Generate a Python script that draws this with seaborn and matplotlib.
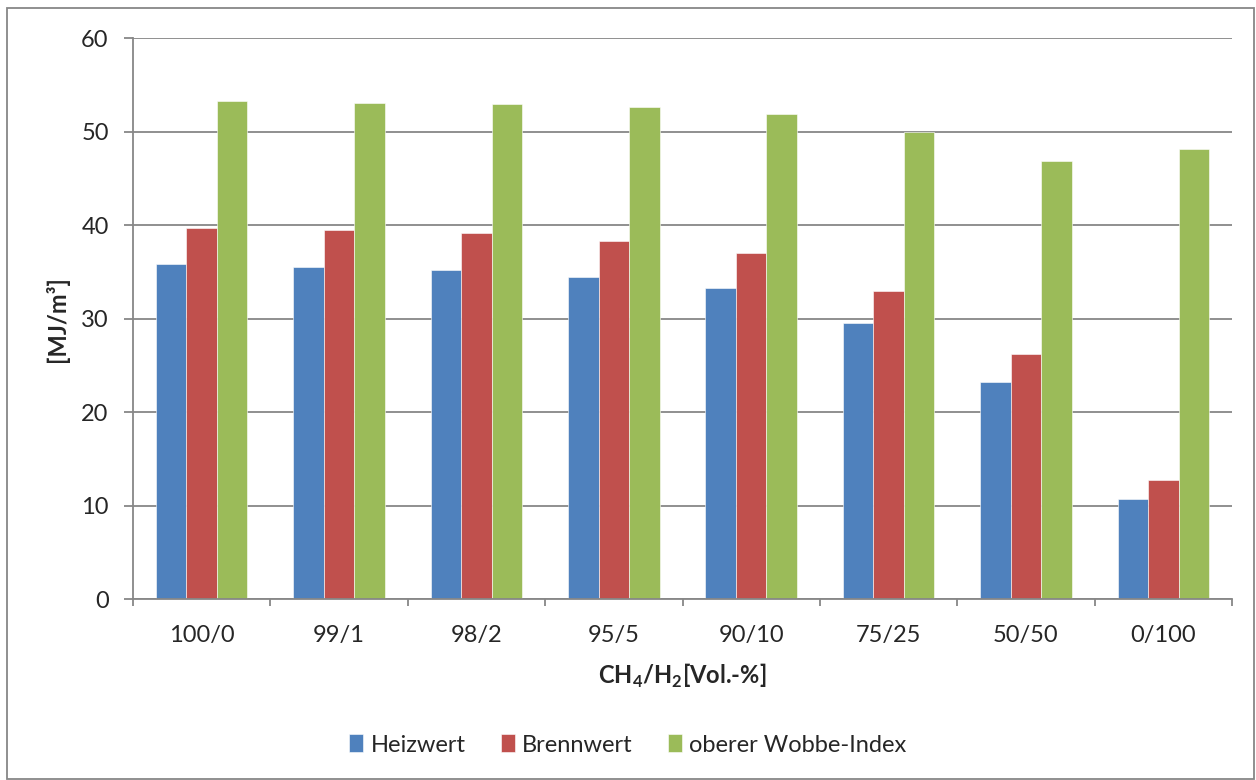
import matplotlib
matplotlib.use("Agg")
import matplotlib.pyplot as plt
from matplotlib.patches import Rectangle
from matplotlib.ticker import FixedLocator
import pandas as pd
import seaborn as sns

# Mixture ratios CH4/H2 in Vol.-%
categories = ["100/0", "99/1", "98/2", "95/5", "90/10", "75/25", "50/50", "0/100"]

# Energy values in MJ/m³
heizwert = [35.8, 35.55, 35.25, 34.5, 33.3, 29.5, 23.2, 10.75]
brennwert = [39.75, 39.45, 39.2, 38.35, 37.0, 33.0, 26.2, 12.7]
wobbe_index = [53.25, 53.1, 53.0, 52.6, 51.95, 50.0, 46.9, 48.2]

series_names = ["Heizwert", "Brennwert", "oberer Wobbe-Index"]
colors = ["#4F81BD", "#C0504D", "#9BBB59"]

df = pd.DataFrame({
    "Mischung": categories * 3,
    "Wert": heizwert + brennwert + wobbe_index,
    "Größe": [s for s in series_names for _ in categories],
})

sns.set_theme(style="white")
plt.rcParams["font.family"] = ["Lato", "DejaVu Sans"]
FS = 17

fig = plt.figure(figsize=(12.56, 7.8), dpi=100)
ax = fig.add_axes([133 / 1256, 1 - 599 / 780, (1232 - 133) / 1256, (599 - 38.3) / 780])

sns.barplot(
    data=df, x="Mischung", y="Wert", hue="Größe",
    order=categories, hue_order=series_names, palette=colors,
    width=2 / 3, gap=0, saturation=1, edgecolor="white", linewidth=0.4,
    ax=ax, legend=True,
)

grid_color = "#878787"
ax.set_ylim(0, 60)
ax.set_xlim(-0.5, len(categories) - 0.5)
ax.set_yticks(range(0, 61, 10))
ax.yaxis.grid(True, color=grid_color, linewidth=1.3)
ax.set_axisbelow(True)

for side in ("top", "right"):
    ax.spines[side].set_visible(False)
for side in ("left", "bottom"):
    ax.spines[side].set_color(grid_color)
    ax.spines[side].set_linewidth(1.3)

ax.tick_params(axis="y", which="major", direction="out", length=6.5, width=1.3,
               color=grid_color, labelsize=FS, pad=11, left=True)
ax.xaxis.set_minor_locator(FixedLocator([i - 0.5 for i in range(len(categories) + 1)]))
ax.tick_params(axis="x", which="minor", direction="out", length=5, width=1.3,
               color=grid_color, bottom=True)
ax.tick_params(axis="x", which="major", length=0, labelsize=FS, pad=19)

ax.set_xlabel(r"CH$_\mathregular{4}$/H$_\mathregular{2}$[Vol.-%]", fontsize=FS,
              fontweight="bold", labelpad=11)
ax.set_ylabel("[MJ/m³]", fontsize=FS, fontweight="bold", labelpad=9)

handles, labels = ax.get_legend_handles_labels()
ax.get_legend().remove()
fig.legend(handles, labels, loc="center", bbox_to_anchor=(0.5, 1 - 745 / 780),
           ncol=3, frameon=False, fontsize=FS, handlelength=0.6, handleheight=0.8,
           handletextpad=0.3, columnspacing=1.5)

# chart border
fig.patches.append(Rectangle((7 / 1256, 1 / 780), 1247 / 1256, 771 / 780,
                             transform=fig.transFigure, fill=False,
                             edgecolor=grid_color, linewidth=1.3))

fig.savefig("out.png", dpi=100, facecolor="white")
